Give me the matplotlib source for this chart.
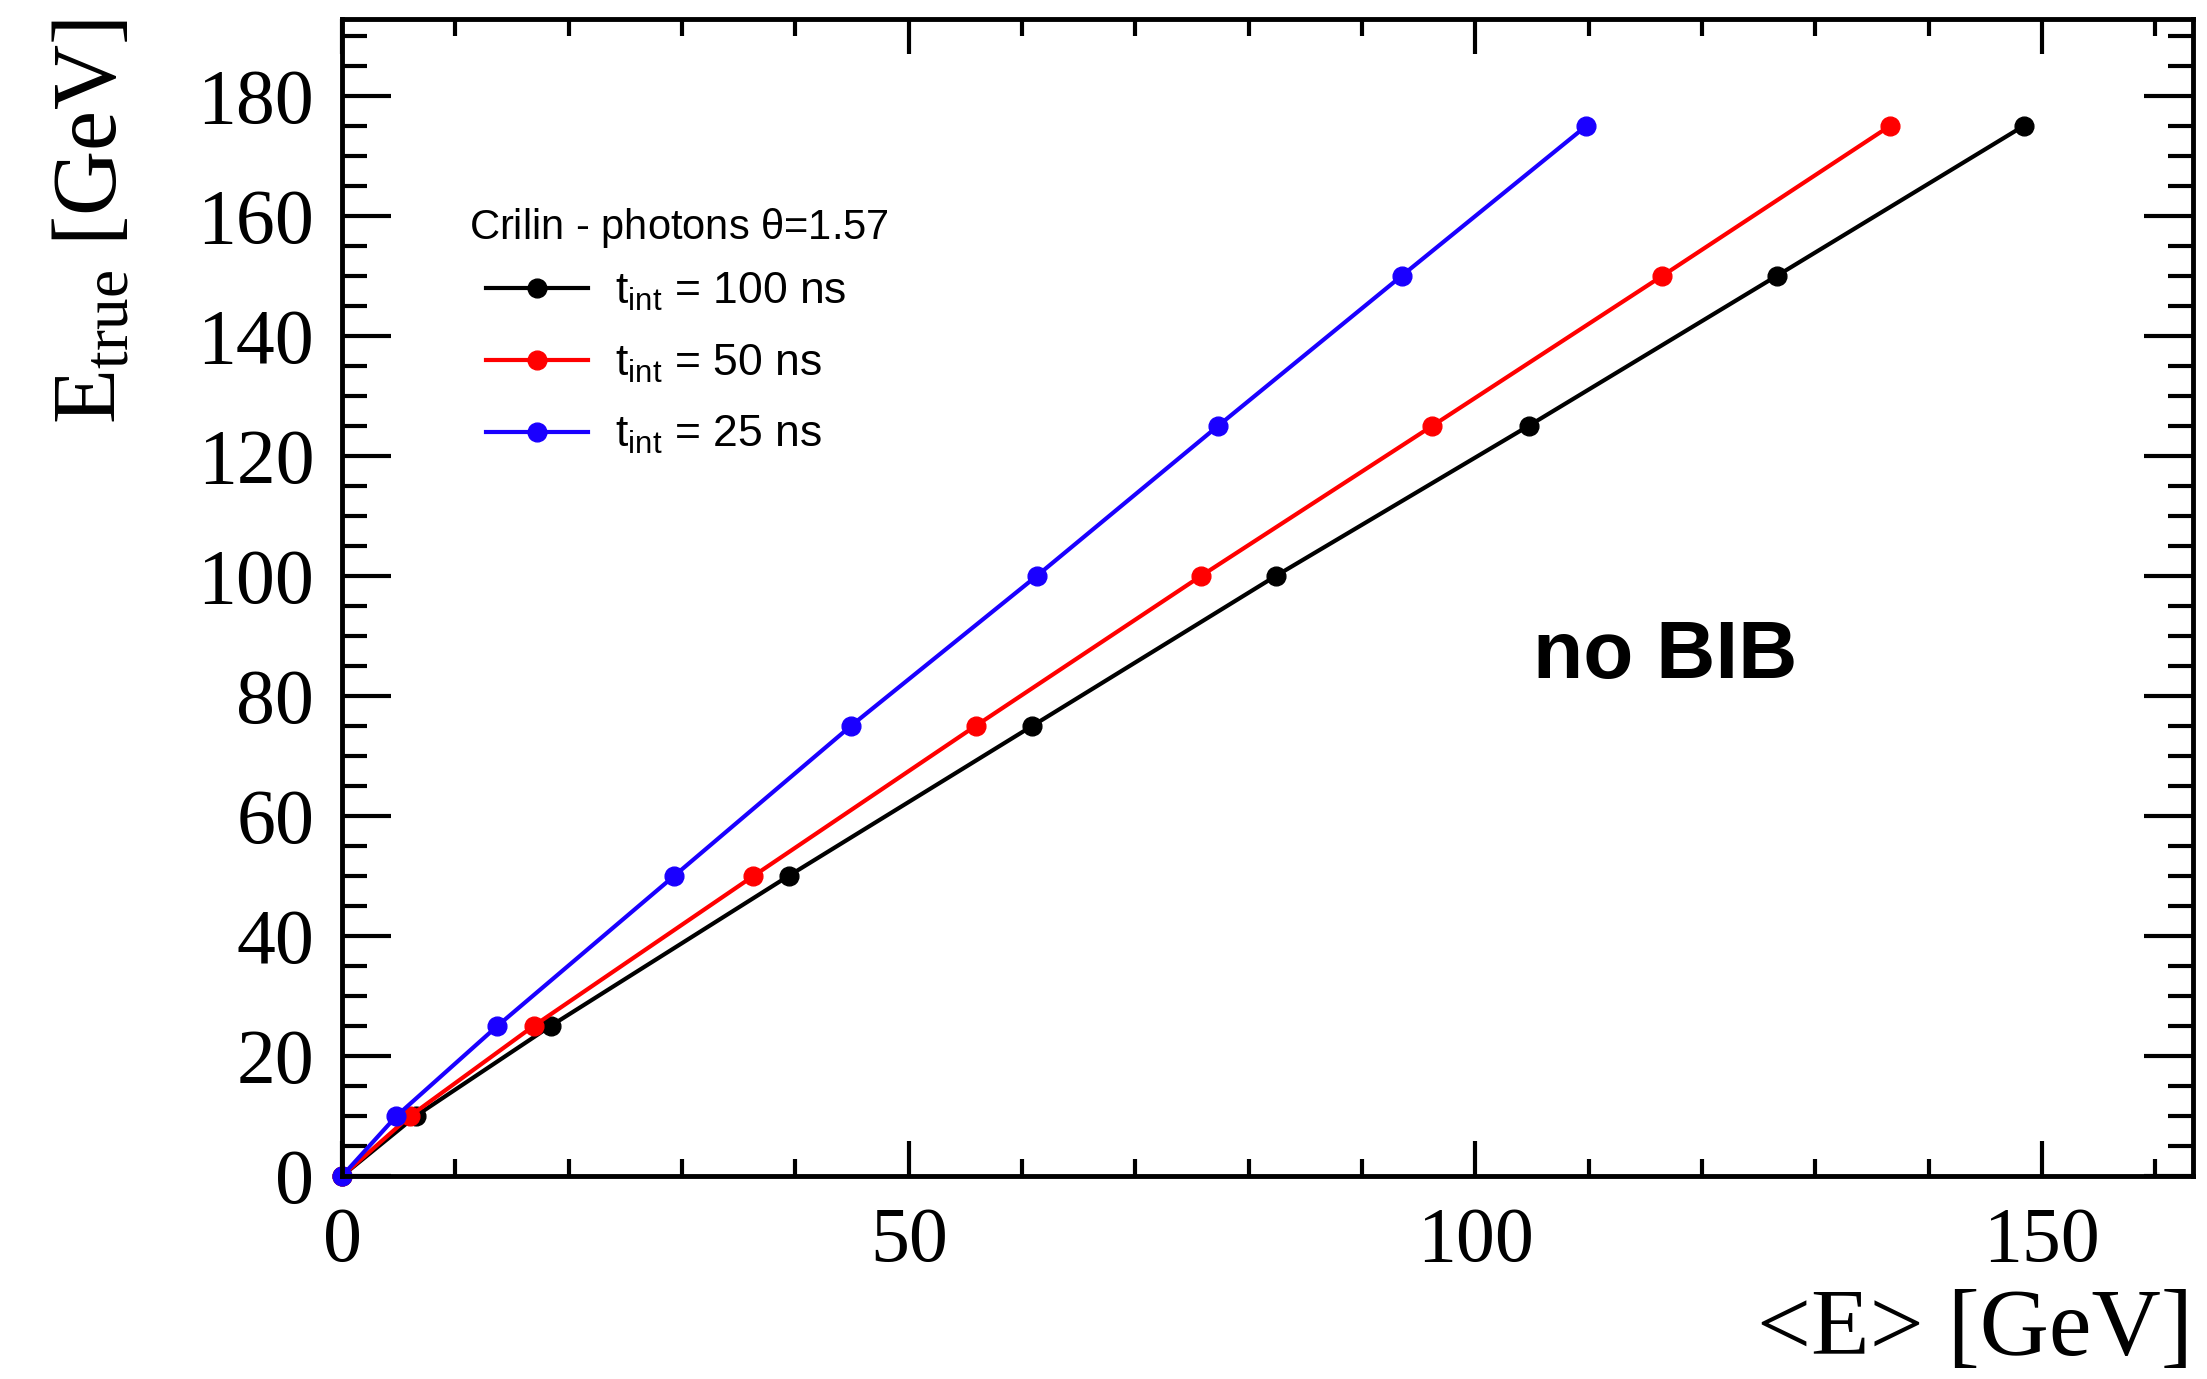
import matplotlib
matplotlib.use("Agg")
from matplotlib import pyplot as plt
from matplotlib.ticker import MultipleLocator

# true energies [GeV]
e_true = [0, 10, 25, 50, 75, 100, 125, 150, 175]

# mean reconstructed energy <E> [GeV] for each integration time
e_100ns = [0, 6.5, 18.4, 39.4, 60.9, 82.4, 104.7, 126.6, 148.4]
e_50ns = [0, 6.0, 16.9, 36.3, 55.9, 75.8, 96.2, 116.5, 136.6]
e_25ns = [0, 4.8, 13.7, 29.3, 44.9, 61.3, 77.3, 93.5, 109.8]

labels = [r"$\mathregular{t_{int}}$ = 100 ns",
          r"$\mathregular{t_{int}}$ = 50 ns",
          r"$\mathregular{t_{int}}$ = 25 ns"]
colors = ["black", "#ff0000", "#1a00ff"]

SERIF = "Liberation Serif"
SANS = "Liberation Sans"

fig = plt.figure(figsize=(22.07, 13.79), dpi=100)
ax = fig.add_axes([0.155, 0.1472, 0.8385, 0.839])

for xs, lab, col in zip([e_100ns, e_50ns, e_25ns], labels, colors):
    ax.plot(xs, e_true, "-o", color=col, lw=3, ms=13.5, label=lab,
            clip_on=False)

ax.set_xlim(0, 163.3)
ax.set_ylim(0, 192.8)

ax.xaxis.set_major_locator(MultipleLocator(50))
ax.xaxis.set_minor_locator(MultipleLocator(10))
ax.yaxis.set_major_locator(MultipleLocator(20))
ax.yaxis.set_minor_locator(MultipleLocator(5))

ax.tick_params(axis="both", which="both", direction="in", top=True, right=True,
               width=3)
ax.tick_params(axis="x", which="major", length=25, pad=22)
ax.tick_params(axis="x", which="minor", length=12)
ax.tick_params(axis="y", which="major", length=35, pad=20)
ax.tick_params(axis="y", which="minor", length=18)
for spine in ax.spines.values():
    spine.set_linewidth(3.5)

for lab in ax.get_xticklabels() + ax.get_yticklabels():
    lab.set_fontfamily(SERIF)
    lab.set_fontsize(56)

ax.set_xlabel("<E> [GeV]", fontfamily=SERIF, fontsize=69, loc="right")
ax.xaxis.set_label_coords(1.0, -0.097)
ax.set_ylabel(r"$\mathregular{E_{true}}$ [GeV]", fontfamily=SERIF, fontsize=65,
              loc="top")
ax.yaxis.set_label_coords(-0.112, 1.0)

# legend header drawn separately (sits left of the handles)
fig.text(469 / 2207, 1 - 228 / 1379, r"Crilin - photons $\mathregular{\theta}$=1.57",
         fontfamily=SANS, fontsize=30, ha="left", va="center")
ax.legend(loc="upper left", bbox_to_anchor=(486 / 2207, 1 - 271 / 1379),
          bbox_transform=fig.transFigure, frameon=False,
          prop={"family": SANS, "size": 32}, handlelength=2.3,
          handletextpad=0.6, labelspacing=0.66, borderpad=0,
          borderaxespad=0)

ax.text(105.1, 83.0, "no BIB", fontfamily=SANS, fontweight="bold", fontsize=59,
        ha="left", va="baseline")

fig.savefig("out.png", dpi=100)
